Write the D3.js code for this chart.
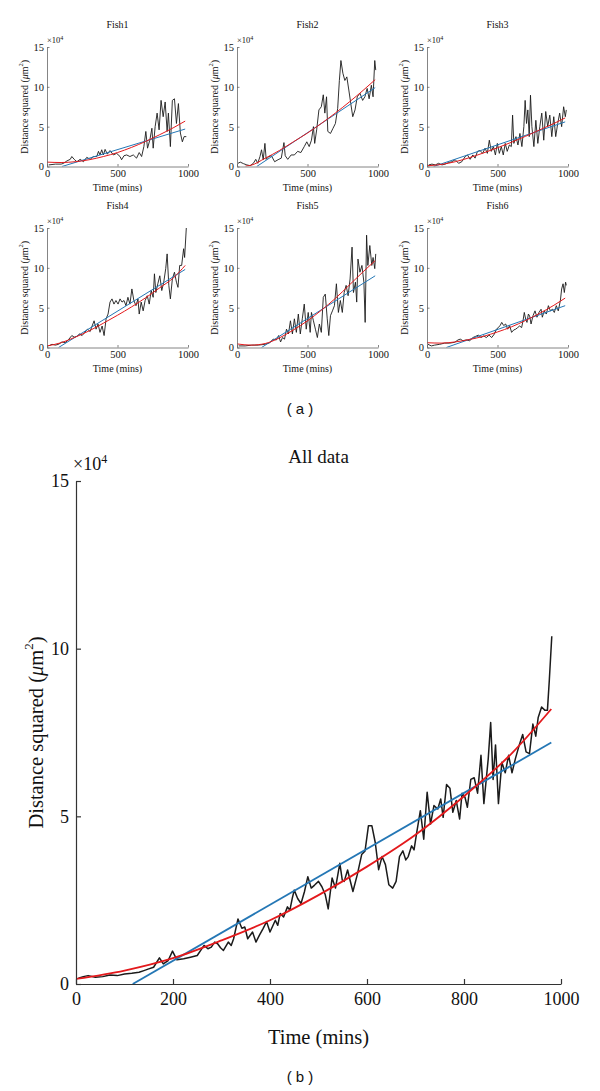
<!DOCTYPE html>
<html>
<head>
<meta charset="utf-8">
<script src="https://cdn.jsdelivr.net/npm/d3@7"></script>
<style>
  html, body { margin: 0; padding: 0; background: #fff; }
  svg { display: block; }
  text { font-family: "Liberation Serif", "DejaVu Serif", serif; fill: #111; }
  .cap { font-family: "Liberation Sans", "DejaVu Sans", sans-serif; }
</style>
</head>
<body>
<svg id="chart" width="600" height="1091"></svg>
<script>
// ---------------- DATA (values in units of 10^4 µm², time in mins) ----------------
const fishNames = ["Fish1", "Fish2", "Fish3", "Fish4", "Fish5", "Fish6"];
const xTicksSmall = [0, 500, 1000];
const yTicks = [0, 5, 10, 15];
const xTicksBig = [0, 200, 400, 600, 800, 1000];

const fish1Data = [[12,0.2],[60,0.3],[100,0.3],[118,0.4],[141,0.7],[165,0.9],[176,1.25],[193,0.9],[212,0.6],[235,0.9],[259,0.6],[282,1.15],[306,0.9],[329,1.25],[353,1.25],[365,1.9],[376,1.45],[388,2.1],[400,1.45],[412,2.15],[428,1.55],[447,2.0],[471,1.45],[494,1.65],[518,1.25],[529,0.85],[546,1.35],[565,1.45],[588,1.25],[612,1.45],[635,1.05],[654,1.75],[671,1.25],[687,2.5],[701,4.4],[713,2.3],[729,3.3],[744,4.8],[753,2.3],[767,5.0],[781,6.7],[795,4.6],[809,8.3],[824,6.25],[838,8.1],[852,4.4],[861,6.7],[875,2.5],[889,8.3],[904,8.5],[918,5.4],[932,7.9],[946,4.2],[960,3.1],[972,3.75],[988,3.75]];
const fish1Red = [[0,0.55],[100,0.5],[200,0.6],[300,0.85],[400,1.25],[500,1.75],[600,2.4],[700,3.15],[800,4.0],[900,4.9],[980,5.7]];
const fish1Blue = [[106,0],[980,4.7]];

const fish2Data = [[7,0.4],[23,0.55],[47,0.35],[70,0.2],[93,0.1],[116,0.4],[133,0.9],[147,0.4],[163,1.25],[174,2.1],[186,0.85],[198,2.9],[207,0.9],[226,1.25],[244,1.35],[267,0.6],[291,0.85],[314,1.05],[333,3.0],[342,1.35],[360,0.9],[384,1.45],[407,1.45],[430,1.9],[453,1.75],[477,2.5],[495,3.1],[512,2.5],[528,3.3],[542,5.0],[551,2.9],[565,4.6],[581,7.1],[598,7.5],[612,9.0],[623,6.7],[635,8.75],[644,4.4],[663,4.15],[681,4.8],[698,5.4],[714,7.3],[726,10.8],[737,13.3],[751,11.7],[765,10.8],[779,11.25],[793,9.6],[807,7.9],[821,6.25],[837,7.1],[853,8.75],[872,9.2],[891,8.3],[907,8.75],[923,9.8],[937,8.5],[953,10.2],[965,8.75],[977,13.3],[984,12.1]];
const fish2Red = [[60,0.05],[100,0.16],[200,1.04],[300,2.0],[400,3.1],[500,4.2],[600,5.43],[700,6.74],[800,8.15],[900,9.64],[980,10.9]];
const fish2Blue = [[140,0],[980,9.9]];

const fish3Data = [[12,0.2],[35,0.3],[59,0.2],[82,0.4],[106,0.2],[129,0.3],[153,0.5],[176,0.6],[200,0.85],[224,0.4],[247,0.6],[271,1.25],[287,1.45],[306,0.9],[325,1.45],[341,1.05],[358,1.9],[376,2.0],[395,1.65],[412,2.3],[428,1.65],[442,3.3],[456,1.9],[471,2.5],[485,1.45],[499,2.9],[513,1.65],[527,2.5],[541,1.45],[555,2.9],[569,1.9],[584,2.7],[598,2.5],[607,6.45],[616,2.9],[631,3.75],[645,2.7],[659,4.15],[673,2.5],[687,5.0],[696,8.3],[706,5.4],[715,7.1],[725,3.75],[734,8.95],[744,5.0],[758,2.5],[772,5.8],[786,2.9],[800,5.0],[814,6.7],[828,3.3],[842,6.9],[856,5.0],[871,6.45],[885,3.75],[899,6.25],[913,3.75],[927,5.4],[941,6.7],[955,5.0],[969,7.5],[981,6.25],[988,7.1]];
const fish3Red = [[0,0.1],[100,0.25],[200,0.6],[300,1.1],[400,1.7],[500,2.35],[600,3.05],[700,3.8],[800,4.6],[900,5.4],[980,6.1]];
const fish3Blue = [[47,0],[980,5.6]];

const fish4Data = [[12,0.2],[35,0.4],[59,0.3],[82,0.4],[106,0.7],[129,0.6],[153,1.0],[176,1.5],[193,1.3],[212,1.4],[231,1.7],[249,1.5],[268,1.9],[287,2.3],[306,2.0],[320,2.7],[334,3.35],[348,2.3],[362,2.95],[376,1.9],[391,2.7],[405,1.5],[419,3.6],[433,4.2],[447,5.7],[461,6.1],[475,5.45],[489,5.9],[504,5.45],[518,6.1],[532,5.7],[546,5.9],[560,5.25],[574,6.3],[588,5.45],[602,7.35],[616,5.9],[631,5.25],[645,6.1],[654,4.2],[668,5.7],[682,4.6],[696,5.9],[711,6.5],[725,5.45],[739,7.15],[753,6.3],[762,9.25],[772,6.9],[786,8.0],[800,9.0],[814,7.15],[828,8.2],[842,9.9],[852,11.75],[864,7.8],[875,6.1],[889,8.6],[904,9.45],[918,8.2],[929,7.55],[941,10.3],[955,10.3],[969,12.4],[976,11.3],[988,15.0]];
const fish4Red = [[0,0.2],[100,0.6],[200,1.3],[300,2.1],[400,3.05],[500,4.05],[600,5.1],[700,6.25],[800,7.5],[900,8.8],[980,10.3]];
const fish4Blue = [[82,0],[980,9.8]];

const fish5Data = [[12,0.2],[58,0.2],[105,0.3],[151,0.3],[198,0.4],[233,0.6],[256,1.05],[279,0.95],[295,1.5],[309,0.7],[323,1.25],[337,1.05],[351,2.3],[365,1.7],[379,3.35],[393,1.7],[407,3.6],[421,1.9],[435,4.2],[449,1.7],[463,3.6],[477,5.45],[491,2.3],[505,4.4],[519,1.9],[528,4.4],[542,3.35],[556,2.3],[570,1.25],[584,2.95],[598,1.9],[612,6.3],[626,6.7],[640,3.6],[651,1.5],[663,4.0],[677,4.6],[691,5.25],[705,8.0],[719,4.4],[733,5.9],[747,4.4],[760,6.9],[774,7.8],[788,6.5],[802,8.6],[816,12.6],[826,6.9],[840,8.2],[849,5.7],[858,11.1],[872,9.45],[886,10.3],[900,8.2],[909,3.15],[919,14.1],[928,10.3],[942,12.8],[956,10.3],[965,11.3],[977,9.9],[984,11.75]];
const fish5Red = [[0,0.45],[100,0.3],[200,0.5],[300,1.2],[400,2.2],[500,3.35],[600,4.7],[700,6.2],[800,7.9],[900,9.6],[980,10.9]];
const fish5Blue = [[174,0],[980,9.0]];

const fish6Data = [[7,0.4],[31,0.2],[54,0.3],[90,0.4],[125,0.55],[161,0.55],[196,0.65],[220,0.95],[236,1.05],[255,0.85],[279,0.95],[303,0.85],[326,1.25],[345,1.4],[364,1.55],[383,1.25],[402,1.45],[421,1.25],[440,1.55],[459,1.25],[478,1.7],[492,2.3],[506,2.5],[520,2.8],[530,3.15],[544,2.75],[558,2.95],[572,2.3],[586,2.75],[600,1.9],[615,2.2],[629,2.3],[643,2.5],[657,2.7],[671,2.5],[681,3.35],[690,4.4],[700,3.55],[709,3.15],[719,4.2],[728,3.95],[738,2.95],[752,4.0],[766,4.6],[780,3.8],[794,4.4],[809,4.8],[818,3.8],[832,4.6],[846,4.2],[861,5.25],[875,4.6],[889,4.8],[903,4.4],[917,5.25],[931,4.6],[946,5.9],[955,7.35],[965,8.0],[974,6.9],[983,8.2],[988,7.8]];
const fish6Red = [[0,0.6],[100,0.55],[200,0.7],[300,1.0],[400,1.4],[500,1.95],[600,2.6],[700,3.4],[800,4.3],[900,5.3],[980,6.2]];
const fish6Blue = [[137,0],[980,5.25]];

const allData = [[5,0.17],[15,0.22],[25,0.25],[40,0.2],[55,0.22],[70,0.27],[85,0.25],[100,0.3],[115,0.32],[130,0.35],[140,0.4],[150,0.45],[160,0.5],[172,0.78],[180,0.6],[190,0.7],[199,0.98],[208,0.72],[222,0.75],[236,0.8],[250,0.85],[264,1.15],[272,1.05],[279,1.1],[286,1.25],[292,1.2],[298,1.08],[304,1.0],[314,1.25],[320,1.15],[325,1.35],[334,1.94],[342,1.66],[348,1.7],[354,1.35],[364,1.55],[371,1.25],[378,1.45],[386,1.66],[393,1.86],[400,1.55],[411,1.9],[416,1.75],[421,2.1],[428,2.0],[436,2.3],[441,2.2],[446,2.56],[450,2.8],[457,2.55],[464,2.4],[471,2.75],[478,3.2],[485,2.86],[492,2.95],[500,3.06],[507,2.9],[514,2.66],[520,2.24],[528,3.16],[535,2.86],[544,3.6],[549,3.1],[553,3.06],[560,3.4],[565,3.1],[571,2.76],[580,3.26],[589,3.86],[596,3.97],[603,4.72],[610,4.72],[617,4.22],[624,3.41],[631,3.8],[638,3.56],[645,2.96],[653,2.86],[660,3.06],[667,3.8],[674,3.97],[680,3.7],[685,3.8],[692,4.12],[697,4.0],[702,4.47],[710,5.17],[717,4.32],[724,5.72],[731,4.77],[738,5.32],[746,5.22],[752,5.52],[757,4.97],[764,5.95],[771,5.84],[777,5.12],[784,5.47],[791,4.92],[796,5.69],[802,5.57],[807,5.27],[814,6.1],[821,6.15],[828,5.69],[835,6.82],[841,5.38],[850,6.72],[855,7.8],[860,6.1],[865,7.13],[871,5.38],[878,6.61],[885,6.3],[892,6.82],[899,6.3],[906,6.72],[914,7.13],[921,7.44],[928,6.92],[935,6.87],[942,7.75],[948,7.39],[953,7.95],[960,8.26],[967,8.16],[972,8.16],[976,9.08],[981,10.37]];
const allRed = [[0,0.15],[100,0.4],[200,0.77],[300,1.3],[400,1.9],[500,2.65],[600,3.5],[700,4.45],[800,5.6],[900,6.9],[980,8.2]];
const allBlue = [[117,0],[980,7.2]];

const fishData = [fish1Data, fish2Data, fish3Data, fish4Data, fish5Data, fish6Data];
const fishRed = [fish1Red, fish2Red, fish3Red, fish4Red, fish5Red, fish6Red];
const fishBlue = [fish1Blue, fish2Blue, fish3Blue, fish4Blue, fish5Blue, fish6Blue];

// ---------------- DRAWING ----------------
const svg = d3.select("#chart");
const COL_BLACK = "#1b1b1b", COL_RED = "#e3191c", COL_BLUE = "#2477b5";
let clipId = 0;

function panel(opt) {
  const { x0, y0, w, h, data, red, blue, title, xTicks, big } = opt;
  const g = svg.append("g").attr("transform", `translate(${x0},${y0})`);
  const x = d3.scaleLinear().domain([0, 1000]).range([0, w]);
  const y = d3.scaleLinear().domain([0, 15]).range([h, 0]);
  const tickFont = big ? 18 : 10.5;
  const labFont = big ? 20.5 : 10;
  const axisCol = big ? "#333" : "#666";
  const tickLen = big ? 5 : 2.5;

  const id = "clip" + (clipId++);
  g.append("clipPath").attr("id", id).append("rect")
    .attr("x", 0).attr("y", -1).attr("width", w + 2).attr("height", h + 1);

  const line = d3.line().x(d => x(d[0])).y(d => y(d[1]));
  const smooth = d3.line().x(d => x(d[0])).y(d => y(d[1])).curve(d3.curveMonotoneX);
  const plot = g.append("g").attr("clip-path", `url(#${id})`);
  plot.append("path").datum(data).attr("d", line).attr("fill", "none")
    .attr("stroke", COL_BLACK).attr("stroke-width", big ? 1.5 : 0.9).attr("stroke-linejoin", "round");
  plot.append("path").datum(blue).attr("d", line).attr("fill", "none")
    .attr("stroke", COL_BLUE).attr("stroke-width", big ? 1.8 : 1.0);
  plot.append("path").datum(red).attr("d", smooth).attr("fill", "none")
    .attr("stroke", COL_RED).attr("stroke-width", big ? 1.8 : 1.0);

  // axes (ticks inward)
  const fmt = d3.format("d");
  const xa = g.append("g").attr("transform", `translate(0,${h})`)
    .call(d3.axisBottom(x).tickValues(xTicks).tickFormat(fmt).tickSizeInner(-tickLen).tickSizeOuter(0).tickPadding(big ? 8 : 3));
  const ya = g.append("g")
    .call(d3.axisLeft(y).tickValues(yTicks).tickFormat(fmt).tickSizeInner(-tickLen).tickSizeOuter(0).tickPadding(big ? 7 : 3));
  [xa, ya].forEach(a => {
    a.select(".domain").attr("stroke", axisCol).attr("stroke-width", big ? 1.2 : 0.8);
    a.selectAll(".tick line").attr("stroke", axisCol).attr("stroke-width", big ? 1.2 : 0.8);
    a.selectAll("text").attr("font-family", "Liberation Serif, DejaVu Serif, serif")
      .attr("font-size", tickFont).attr("fill", "#111");
  });

  // x10^4 exponent label
  const ex = g.append("text").attr("x", big ? -3 : 0).attr("y", big ? -11 : -4)
    .attr("font-size", big ? 18 : 8.5);
  ex.append("tspan").text("×10");
  ex.append("tspan").attr("dy", big ? -7 : -3.5).attr("font-size", big ? 12 : 6).text("4");

  // title
  g.append("text").attr("x", w / 2).attr("y", big ? -18 : -19)
    .attr("text-anchor", "middle").attr("font-size", big ? 19 : 10).text(title);

  // x label
  g.append("text").attr("x", w / 2).attr("y", h + (big ? 60 : 24))
    .attr("text-anchor", "middle").attr("font-size", labFont).text("Time (mins)");

  // y label
  const yl = g.append("text")
    .attr("transform", `translate(${big ? -38 : -21},${h / 2}) rotate(-90)`)
    .attr("text-anchor", "middle").attr("dominant-baseline", "middle")
    .attr("font-size", labFont);
  yl.append("tspan").text("Distance squared (");
  yl.append("tspan").attr("font-style", "italic").text("μ");
  yl.append("tspan").text("m");
  yl.append("tspan").attr("dy", big ? -8 : -4).attr("font-size", big ? 13 : 6.5).text("2");
  yl.append("tspan").attr("dy", big ? 8 : 4).text(")");
}

const colX = [47, 237, 427];
const rowY = [47, 228];
fishNames.forEach((name, i) => {
  panel({
    x0: colX[i % 3], y0: rowY[Math.floor(i / 3)], w: 141, h: 119.5,
    data: fishData[i], red: fishRed[i], blue: fishBlue[i], title: name,
    xTicks: xTicksSmall, big: false
  });
});

panel({
  x0: 76, y0: 481, w: 485, h: 503,
  data: allData, red: allRed, blue: allBlue, title: "All data",
  xTicks: xTicksBig, big: true
});

svg.append("text").attr("class", "cap").attr("x", 300).attr("y", 414)
  .attr("text-anchor", "middle").attr("font-size", 15).text("( a )");
svg.append("text").attr("class", "cap").attr("x", 300).attr("y", 1082)
  .attr("text-anchor", "middle").attr("font-size", 15).text("( b )");
</script>
</body>
</html>
